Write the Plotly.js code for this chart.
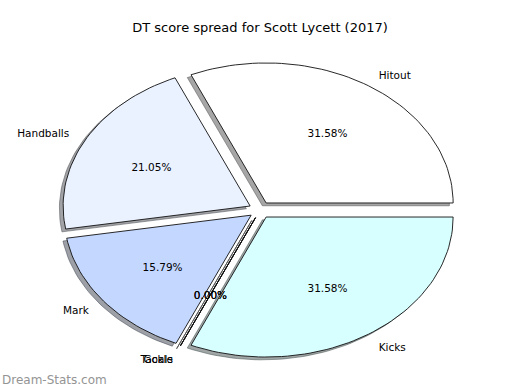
<!DOCTYPE html>
<html>
<head>
<meta charset="utf-8">
<script src="https://cdn.plot.ly/plotly-3.0.1.min.js"></script>
<style>html,body{margin:0;padding:0;background:#fff;}#chart{width:520px;height:390px;}</style>
</head>
<body>
<div id="chart"></div>
<script>
const categories = ['Hitout', 'Handballs', 'Mark', 'Tackle', 'Goals', 'Kicks'];
const values = [6, 4, 3, 0, 0, 6];
const sliceColors = ['#ffffff', '#eaf1ff', '#c4d7ff', '#ffffff', '#ffffff', '#d8ffff'];
const titleText = 'DT score spread for Scott Lycett (2017)';
const watermark = 'Dream-Stats.com';

const explode = 0.06;
const shadowOff = [-0.02, -0.02];
const FONT = 'DejaVu Sans, Verdana, sans-serif';

const W = 520, H = 390, rx = 187, ry = 140, cxp = 260, cyp = 210;
const textNudge = -2 / ry;

const total = values.reduce((a, b) => a + b, 0);
const traces = [];
const shadows = [];
const wedges = [];
const labelsX = [], labelsY = [], labelsT = [], labelsPos = [];
const pctX = [], pctY = [], pctT = [];

function shade(hex) {
  const r = parseInt(hex.slice(1, 3), 16), g = parseInt(hex.slice(3, 5), 16), b = parseInt(hex.slice(5, 7), 16);
  return 'rgba(' + Math.round(r * 0.3) + ',' + Math.round(g * 0.3) + ',' + Math.round(b * 0.3) + ',0.5)';
}

let start = 0;
values.forEach((v, i) => {
  const frac = v / total;
  const t1 = start * 2 * Math.PI;
  const t2 = (start + frac) * 2 * Math.PI;
  const mid = (t1 + t2) / 2;
  const cx = explode * Math.cos(mid);
  const cy = explode * Math.sin(mid);
  const xs = [cx], ys = [cy];
  const n = Math.max(2, Math.ceil(frac * 200));
  for (let k = 0; k <= n; k++) {
    const t = t1 + (t2 - t1) * k / n;
    xs.push(cx + Math.cos(t));
    ys.push(cy + Math.sin(t));
  }
  xs.push(cx); ys.push(cy);
  shadows.push({
    type: 'scatter', mode: 'lines', x: xs.map(x => x + shadowOff[0]), y: ys.map(y => y + shadowOff[1]),
    fill: 'toself', fillcolor: shade(sliceColors[i]), line: {width: 1, color: shade(sliceColors[i])},
    hoverinfo: 'skip', showlegend: false
  });
  wedges.push({
    type: 'scatter', mode: 'lines', x: xs, y: ys, fill: 'toself', fillcolor: sliceColors[i],
    line: {width: 0.9, color: '#111'}, hoverinfo: 'skip', showlegend: false
  });
  const lx = cx + 1.1 * Math.cos(mid), ly = cy + 1.1 * Math.sin(mid);
  labelsX.push(lx); labelsY.push(ly + textNudge); labelsT.push(categories[i]);
  labelsPos.push(Math.cos(mid) > 0 ? 'middle right' : 'middle left');
  pctX.push(cx + 0.6 * Math.cos(mid)); pctY.push(cy + 0.6 * Math.sin(mid) + textNudge);
  pctT.push((frac * 100).toFixed(2) + '%');
  start += frac;
});

traces.push(...shadows, ...wedges);
traces.push({
  type: 'scatter', mode: 'text', x: labelsX, y: labelsY, text: labelsT, textposition: labelsPos,
  textfont: {family: FONT, size: 10.5, color: '#000'}, hoverinfo: 'skip', showlegend: false, cliponaxis: false
});
traces.push({
  type: 'scatter', mode: 'text', x: pctX, y: pctY, text: pctT, textposition: 'middle center',
  textfont: {family: FONT, size: 10.5, color: '#000'}, hoverinfo: 'skip', showlegend: false, cliponaxis: false
});

const layout = {
  width: W, height: H,
  margin: {l: 0, r: 0, t: 0, b: 0},
  paper_bgcolor: '#ffffff', plot_bgcolor: '#ffffff',
  title: {text: titleText, x: 0.5, xanchor: 'center', y: 1 - 27 / H, yanchor: 'middle',
          font: {family: FONT, size: 13, color: '#000'}},
  xaxis: {range: [-cxp / rx, (W - cxp) / rx], visible: false, fixedrange: true},
  yaxis: {range: [-(H - cyp) / ry, cyp / ry], visible: false, fixedrange: true},
  annotations: [{
    text: watermark, xref: 'paper', yref: 'paper', x: 0, y: 1 - 380 / H, xanchor: 'left', yanchor: 'middle',
    showarrow: false, font: {family: FONT, size: 12, color: '#949494'}
  }]
};

Plotly.newPlot('chart', traces, layout, {displayModeBar: false, staticPlot: true});
</script>
</body>
</html>
